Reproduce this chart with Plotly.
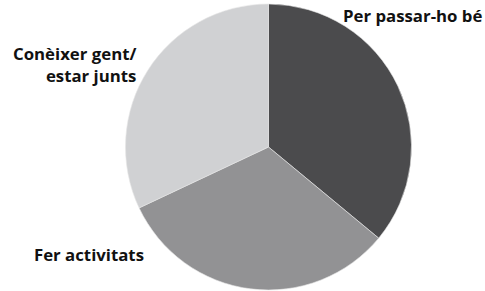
import plotly.graph_objects as go

labels = ["Per passar-ho bé", "Fer activitats", "Conèixer gent/<br>estar junts"]
values = [36, 32, 32]
colors = ["#4b4b4d", "#929294", "#d0d1d3"]

W, H = 485, 291
fig = go.Figure(go.Pie(
    labels=labels, values=values, sort=False, direction="clockwise", rotation=0,
    marker=dict(colors=colors, line=dict(color="#e6e6e6", width=0.6)),
    textinfo="none", hoverinfo="label+percent", showlegend=False,
    domain=dict(x=[125.5 / W, 411.5 / W], y=[1 / H, 287 / H]),
))

font = dict(family="Open Sans", size=16.8, color="#111111")
anns = [
    dict(text="<b>Per passar-ho bé</b>", x=484 / W, y=1 - 15 / H, xanchor="right", yanchor="middle", align="right"),
    dict(text="<b>Conèixer gent/<br>estar junts</b>", x=138 / W, y=1 - 64 / H, xanchor="right", yanchor="middle", align="right"),
    dict(text="<b>Fer activitats</b>", x=32 / W, y=1 - 254 / H, xanchor="left", yanchor="middle", align="left"),
]
for a in anns:
    fig.add_annotation(xref="paper", yref="paper", showarrow=False, font=font, **a)

fig.update_layout(width=W, height=H, margin=dict(l=0, r=0, t=0, b=0),
                  paper_bgcolor="white", plot_bgcolor="white")
fig.write_html("out.html", config={"displayModeBar": False},
               post_script="document.body.style.margin='0';")
